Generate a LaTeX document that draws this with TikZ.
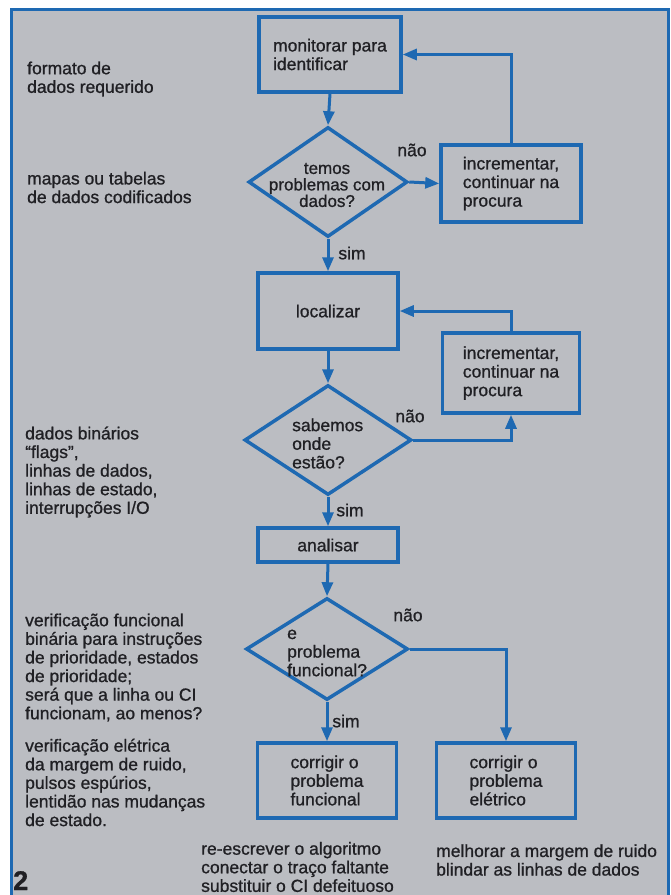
\documentclass[tikz,border=0pt]{standalone}
\usepackage{fontspec}
\setmainfont{Liberation Sans}[FakeBold=0.9]
\usetikzlibrary{shapes.geometric,arrows.meta}
\definecolor{bg}{RGB}{187,189,194}
\definecolor{fblue}{RGB}{30,105,178}
\definecolor{ink}{RGB}{32,32,36}
\newcommand\mytxt{\fontsize{17.5}{18.6}\selectfont}
\begin{document}
\begin{tikzpicture}[x=1pt,y=-1pt,
  box/.style={draw=fblue,line width=3.5pt,rectangle,inner sep=0pt,text=ink,align=left,font=\mytxt},
  dia/.style={draw=fblue,line width=3.5pt,diamond,inner sep=0pt},
  lbl/.style={text=ink,align=left,font=\mytxt,inner sep=0pt},
  conn/.style={draw=fblue,line width=3pt},
  arr/.style={conn,-{Triangle[length=14pt,width=11pt]}}]
\useasboundingbox (0,0) rectangle (671,895);
\clip (0,0) rectangle (671,895);
\fill[white] (0,0) rectangle (671,895);
\fill[bg] (11,9) rectangle (668,910);
\draw[fblue,line width=3pt] (11,9) rectangle (668,910);

% flowchart nodes
\node[box,minimum width=142pt,minimum height=75pt] (b1) at (330,54.5) {monitorar para\\identificar};
\node[dia,minimum width=159pt,minimum height=110pt] (d1) at (328,182) {};
\node[lbl,align=center,font=\fontsize{17}{16.5}\selectfont] (t1) at (327,185) {temos\\problemas com\\dados?};
\node[box,minimum width=140pt,minimum height=77pt] (b2) at (511,183.5) {incrementar,\\continuar na\\procura};

\node[box,minimum width=140pt,minimum height=76pt] (b3) at (328,311) {localizar};
\node[box,minimum width=137pt,minimum height=80pt] (b4) at (511,373) {incrementar,\\continuar na\\procura};
\node[dia,minimum width=167pt,minimum height=110pt] (d2) at (328,440) {};
\node[lbl,anchor=west] (t2) at (292,443.5) {sabemos\\onde\\estão?};

\node[box,minimum width=140pt,minimum height=34pt] (b5) at (328,545) {analisar};
\node[dia,minimum width=162pt,minimum height=102pt] (d3) at (327,649) {};
\node[lbl,anchor=west] (t3) at (287,653) {e\\problema\\funcional?};

\node[box,minimum width=139pt,minimum height=75pt] (b6) at (327,780.5) {corrigir o\\problema\\funcional};
\node[box,minimum width=139pt,minimum height=75pt] (b7) at (506,780.5) {corrigir o\\problema\\elétrico};

% connectors
\draw[arr] (b1.south) -- (d1.north);
\draw[arr] (d1.east) -- (b2.west);
\draw[arr] (b2.north) |- (b1.east);
\draw[arr] (d1.south) -- (b3.north);
\draw[arr] (b4.north) |- (b3.east);
\draw[arr] (b3.south) -- (d2.north);
\draw[arr] (d2.east) -| (b4.south);
\draw[arr] (d2.south) -- (b5.north);
\draw[arr] (b5.south) -- (d3.north);
\draw[arr] (d3.east) -| (b7.north);
\draw[arr] (d3.south) -- (b6.north);

% connector labels
\node[lbl] (n1) at (412,150) {não};
\node[lbl] (s1) at (352,253) {sim};
\node[lbl] (n2) at (410,416) {não};
\node[lbl] (s2) at (350,510) {sim};
\node[lbl] (n3) at (408,615) {não};
\node[lbl] (s3) at (346,721) {sim};

% side notes
\node[lbl,anchor=west] (l1) at (27,79) {formato de\\dados requerido};
\node[lbl,anchor=west] (l2) at (27,187.5) {mapas ou tabelas\\de dados codificados};
\node[lbl,anchor=west] (l3) at (25,472) {dados binários\\``flags'',\\linhas de dados,\\linhas de estado,\\interrupções I/O};
\node[lbl,anchor=west] (l4) at (25,667.5) {verificação funcional\\binária para instruções\\de prioridade, estados\\de prioridade;\\será que a linha ou CI\\funcionam, ao menos?};
\node[lbl,anchor=west] (l5) at (25,782.5) {verificação elétrica\\da margem de ruido,\\pulsos espúrios,\\lentidão nas mudanças\\de estado.};
\node[lbl,anchor=west] (l6) at (201,867) {re-escrever o algoritmo\\conectar o traço faltante\\substituir o CI defeituoso};
\node[lbl,anchor=west] (l7) at (436,860) {melhorar a margem de ruido\\blindar as linhas de dados};
\node[lbl,anchor=base west,font=\fontsize{27}{30}\selectfont\bfseries] (fig) at (13,890) {2};
\end{tikzpicture}
\end{document}
